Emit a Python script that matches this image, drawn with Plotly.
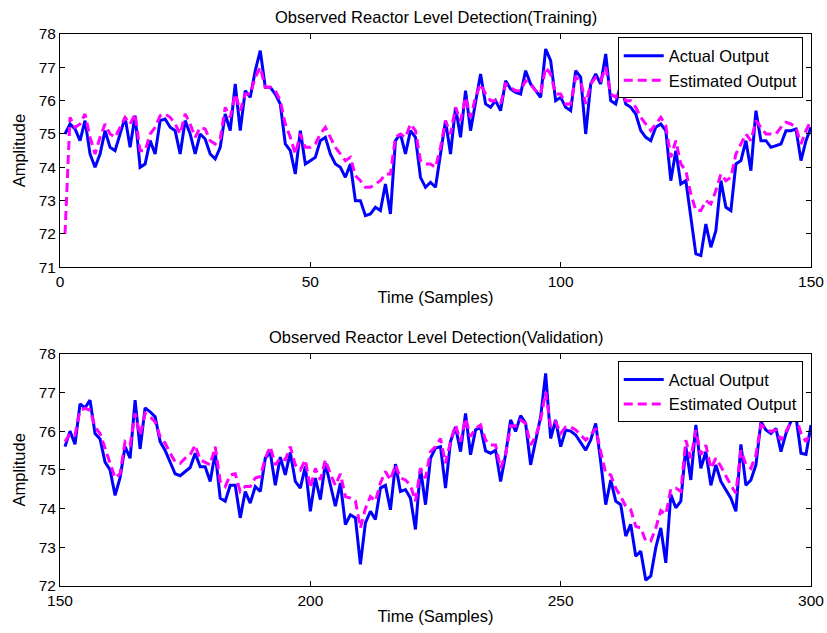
import plotly.graph_objects as go

# ---------------- data ----------------
train_samples = list(range(1, 151))
train_actual = [
    75.0, 75.3, 75.15, 74.8, 75.4, 74.4, 74.0, 74.4, 75.1, 74.6,
    74.5, 75.0, 75.5, 74.6, 75.55, 74.0, 74.1, 74.8, 74.4, 75.4,
    75.45, 75.2, 75.1, 74.4, 75.4, 75.0, 74.4, 75.0, 74.85, 74.4,
    74.25, 74.6, 75.6, 75.1, 76.5, 75.1, 76.3, 76.1, 76.9, 77.5,
    76.4, 76.4, 76.2, 75.9, 74.7, 74.5, 73.8, 75.1, 74.1, 74.2,
    74.3, 74.8, 74.9, 74.4, 74.1, 74.0, 73.7, 74.1, 73.0, 73.0,
    72.55, 72.6, 72.8, 72.7, 73.5, 72.6, 74.8, 75.0, 74.4, 75.1,
    74.9, 73.7, 73.4, 73.55, 73.4, 74.4, 75.4, 74.4, 75.8, 74.9,
    76.3, 75.1, 75.9, 76.8, 75.9, 75.8, 76.0, 75.7, 76.6, 76.35,
    76.25, 76.2, 76.9, 76.5, 76.3, 76.1, 77.55, 77.2, 76.0, 76.1,
    75.8, 75.7, 76.9, 76.7, 75.0, 76.5, 76.8, 76.5, 77.4, 76.0,
    75.9, 76.5, 75.9, 75.8, 75.6, 75.1, 74.9, 74.8, 75.2, 75.3,
    75.1, 73.6, 74.5, 73.5, 73.6, 72.5, 71.4, 71.35, 72.3, 71.6,
    72.1, 73.6, 72.8, 72.7, 74.1, 74.2, 74.8, 73.9, 75.7, 74.8,
    74.8, 74.6, 74.65, 74.7, 75.1, 75.1, 75.15, 74.2, 74.8, 75.2,
]
train_estimated = [
    72.0, 75.5, 75.2, 75.3, 75.6, 74.9, 74.4, 74.9, 75.3, 75.0,
    74.9, 75.2, 75.5, 75.3, 75.6, 74.5, 74.5, 75.0, 75.2, 75.55,
    75.6, 75.5, 75.3, 75.0, 75.6, 75.3, 74.9, 75.2, 75.15, 74.8,
    74.7, 74.85, 75.8, 75.5, 76.2, 75.7, 76.2, 76.2, 76.7, 77.0,
    76.4, 76.4, 76.3, 76.0, 75.3, 74.9, 74.4, 75.0, 74.6, 74.6,
    74.7, 75.0, 75.2, 74.9, 74.6, 74.4, 74.2, 74.3, 73.75, 73.6,
    73.4, 73.4, 73.5, 73.6, 73.8, 73.8, 74.9, 75.0, 74.9, 75.3,
    75.1, 74.2, 74.1, 74.1, 74.0, 74.6, 75.4, 75.0, 75.8, 75.4,
    76.1, 75.5, 76.1, 76.5, 76.2, 76.0, 76.0, 75.9, 76.5, 76.4,
    76.3, 76.3, 76.6, 76.5, 76.3, 76.2, 77.0, 76.8, 76.2, 76.2,
    75.9, 75.9, 76.7, 76.6, 75.9, 76.5, 76.7, 76.6, 77.0, 76.2,
    76.1, 76.4, 76.0, 76.0, 75.8, 75.5, 75.3, 75.1, 75.3, 75.5,
    75.25, 74.3, 74.8, 74.1, 73.9, 73.2, 72.7, 72.7, 73.0, 72.9,
    73.3, 73.8, 73.6, 73.7, 74.4, 74.7, 75.0, 74.8, 75.4, 75.2,
    75.0, 75.0, 75.0, 75.2, 75.35, 75.3, 75.2, 74.7, 75.1, 75.4,
]

valid_samples = list(range(151, 301))
valid_actual = [
    75.6, 76.0, 75.66, 76.7, 76.6, 76.8, 75.94, 75.8, 75.2, 75.0,
    74.34, 74.8, 75.6, 75.3, 76.8, 75.54, 76.6, 76.5, 76.37, 75.73,
    75.5, 75.2, 74.9, 74.85, 74.96, 75.06, 75.43, 75.08, 75.08, 74.7,
    75.45, 74.27, 74.19, 74.6, 74.6, 73.76, 74.44, 74.14, 74.57, 74.44,
    75.3, 75.45, 74.6, 75.33, 74.87, 75.45, 74.7, 74.53, 75.09, 73.93,
    74.79, 74.23, 75.17, 74.6, 74.06, 74.66, 73.59, 73.84, 73.76, 72.56,
    73.63, 73.93, 73.72, 74.53, 74.6, 73.97, 75.15, 74.44, 74.49, 74.27,
    73.46, 75.04, 74.1, 75.3, 75.56, 75.6, 74.53, 75.73, 76.11, 75.47,
    76.46, 75.39, 76.03, 76.11, 75.49, 75.43, 75.51, 74.7, 75.39, 76.29,
    75.99, 76.4, 76.2, 75.13, 75.73, 76.37, 77.49, 75.81, 76.29, 75.6,
    76.03, 76.0, 75.9, 75.69, 75.51, 75.77, 76.2, 75.21, 74.1, 74.74,
    74.19, 74.1, 73.29, 73.59, 72.77, 72.9, 72.15, 72.26, 72.99, 73.5,
    72.6, 74.36, 74.02, 74.19, 75.6, 74.74, 76.16, 75.04, 75.47, 74.6,
    75.13, 74.7, 74.49, 74.27, 73.93, 75.66, 74.6, 74.74, 75.13, 76.24,
    76.03, 75.94, 76.07, 75.47, 75.94, 76.26, 76.37, 75.43, 75.4, 76.16,
]
valid_estimated = [
    75.73, 75.94, 75.9, 76.54, 76.59, 76.54, 76.11, 75.94, 75.56, 75.17,
    74.79, 74.9, 75.73, 75.64, 76.46, 75.9, 76.46, 76.37, 76.24, 75.86,
    75.69, 75.43, 75.21, 75.17, 75.3, 75.39, 75.64, 75.26, 75.2, 75.13,
    75.6, 74.7, 74.57, 74.87, 74.9, 74.44, 74.57, 74.57, 74.79, 74.83,
    75.3, 75.6, 75.13, 75.3, 75.26, 75.6, 75.13, 75.0, 75.26, 74.53,
    75.04, 74.74, 75.26, 74.9, 74.6, 74.9, 74.31, 74.27, 74.2, 73.5,
    74.0, 74.31, 74.19, 74.66, 74.96, 74.74, 75.13, 74.79, 74.74, 74.6,
    74.19, 75.04, 74.79, 75.47, 75.6, 75.81, 75.17, 75.73, 76.16, 75.73,
    76.33, 75.86, 76.07, 76.16, 75.77, 75.64, 75.64, 75.04, 75.39, 76.14,
    76.13, 76.29, 76.2, 75.64, 75.86, 76.29, 77.01, 76.11, 76.24, 75.94,
    76.11, 76.11, 76.03, 75.9, 75.77, 75.9, 76.07, 75.47, 74.91, 74.87,
    74.53, 74.31, 74.06, 73.97, 73.54, 73.5, 73.16, 73.16, 73.5, 73.95,
    73.85, 74.5, 74.53, 74.44, 75.77, 75.3, 76.03, 75.39, 75.64, 75.04,
    75.3, 75.09, 74.83, 74.6, 74.4, 75.51, 75.13, 75.04, 75.39, 76.16,
    76.07, 75.99, 76.03, 75.77, 75.99, 76.24, 76.37, 75.94, 75.73, 75.99,
]

titles = ["Observed Reactor Level Detection(Training)",
          "Observed Reactor Level Detection(Validation)"]
x_label = "Time (Samples)"
y_label = "Amplitude"
series_names = ["Actual Output", "Estimated Output"]

# ---------------- figure ----------------
FONT = "Liberation Sans, Arial, sans-serif"
BLUE = "#0000FF"
MAGENTA = "#FF00FF"

fig = go.Figure()

fig.add_trace(go.Scatter(x=train_samples, y=train_actual, mode="lines",
                         name=series_names[0], line=dict(color=BLUE, width=3),
                         xaxis="x", yaxis="y", legend="legend"))
fig.add_trace(go.Scatter(x=train_samples, y=train_estimated, mode="lines",
                         name=series_names[1],
                         line=dict(color=MAGENTA, width=3, dash="9px,5px"),
                         xaxis="x", yaxis="y", legend="legend"))
fig.add_trace(go.Scatter(x=valid_samples, y=valid_actual, mode="lines",
                         name=series_names[0], line=dict(color=BLUE, width=3),
                         xaxis="x2", yaxis="y2", legend="legend2"))
fig.add_trace(go.Scatter(x=valid_samples, y=valid_estimated, mode="lines",
                         name=series_names[1],
                         line=dict(color=MAGENTA, width=3, dash="9px,5px"),
                         xaxis="x2", yaxis="y2", legend="legend2"))

axis_common = dict(showgrid=False, zeroline=False, showline=True,
                   linecolor="black", linewidth=1, mirror="ticks",
                   ticks="inside", ticklen=5, tickcolor="black",
                   automargin=False, ticklabeloverflow="allow",
                   tickfont=dict(family=FONT, size=15.5, color="black"))

top_dom = [0.5774, 1.0]
bot_dom = [0.0, 0.4208]
title_font = dict(family=FONT, size=16.5, color="black")

fig.update_layout(
    width=827, height=633,
    margin=dict(l=60, r=16, t=33.5, b=47),
    paper_bgcolor="white", plot_bgcolor="white",
    font=dict(family=FONT, size=15, color="black"),
    xaxis=dict(axis_common, domain=[0, 1], anchor="y", range=[0, 150],
               tickvals=[0, 50, 100, 150],
               title=dict(text=x_label, font=title_font, standoff=2)),
    yaxis=dict(axis_common, domain=top_dom, anchor="x", range=[71, 78],
               tickvals=[71, 72, 73, 74, 75, 76, 77, 78],
               title=dict(text=y_label, font=title_font, standoff=8)),
    xaxis2=dict(axis_common, domain=[0, 1], anchor="y2", range=[150, 300],
                tickvals=[150, 200, 250, 300],
                title=dict(text=x_label, font=title_font, standoff=2)),
    yaxis2=dict(axis_common, domain=bot_dom, anchor="x2", range=[72, 78],
                tickvals=[72, 73, 74, 75, 76, 77, 78],
                title=dict(text=y_label, font=title_font, standoff=8)),
    legend=dict(x=0.989, y=0.9937, xanchor="right", yanchor="top",
                bgcolor="white", bordercolor="black", borderwidth=1,
                font=dict(family=FONT, size=16.5), tracegroupgap=0,
                itemwidth=40),
    legend2=dict(x=0.989, y=0.4072, xanchor="right", yanchor="top",
                 bgcolor="white", bordercolor="black", borderwidth=1,
                 font=dict(family=FONT, size=16.5), tracegroupgap=0,
                 itemwidth=40),
    annotations=[
        dict(text=titles[0], xref="paper", yref="paper", x=0.5, y=1.0,
             yshift=6, xanchor="center", yanchor="bottom", showarrow=False,
             font=title_font),
        dict(text=titles[1], xref="paper", yref="paper", x=0.5, y=bot_dom[1],
             yshift=6, xanchor="center", yanchor="bottom", showarrow=False,
             font=title_font),
    ],
)

# remove the default 8px page margin so the 827x633 figure fills the window
fig.write_html("out.html",
               config={"displayModeBar": False},
               post_script="document.body.style.margin='0px';")
